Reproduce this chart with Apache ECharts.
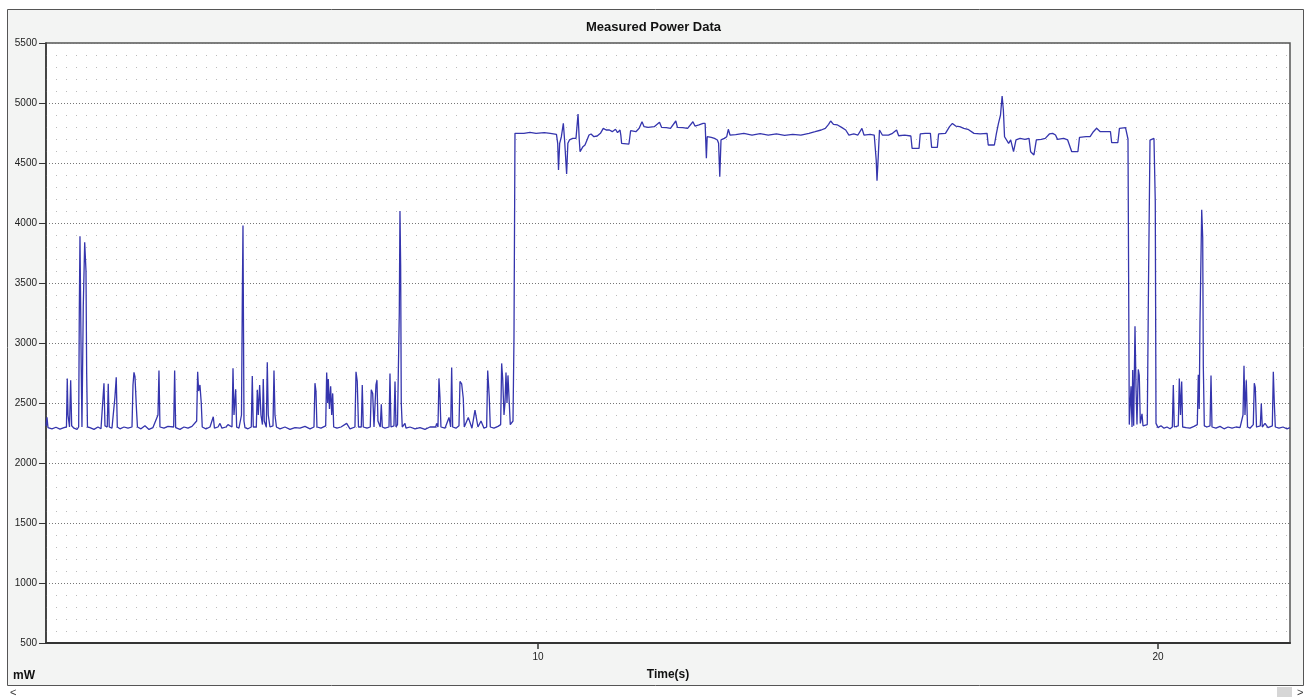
<!DOCTYPE html>
<html>
<head>
<meta charset="utf-8">
<title>Measured Power Data</title>
<script src="https://cdn.jsdelivr.net/npm/echarts@6/dist/echarts.min.js"></script>
<style>
  html, body { margin: 0; padding: 0; background: #fff; }
  #chart { width: 1307px; height: 697px; }
</style>
</head>
<body>
<div id="chart"></div>
<script>
// time (s), power (mW) -- idle phase before the run
var idleBefore = [
  [2.065, 2310], [2.081, 2380], [2.097, 2295], [2.161, 2285], [2.226, 2298], [2.290, 2282], [2.355, 2295],
  [2.395, 2300], [2.408, 2705], [2.420, 2400], [2.444, 2300], [2.463, 2690], [2.479, 2310],
  [2.516, 2290], [2.565, 2280],
  [2.592, 2300], [2.602, 3250], [2.613, 3890], [2.634, 2760], [2.645, 2300], [2.666, 3300], [2.689, 3840], [2.710, 3600], [2.721, 2750], [2.734, 2300],
  [2.774, 2295], [2.839, 2280], [2.903, 2300], [2.952, 2285],
  [2.984, 2300], [3.000, 2665], [3.016, 2310], [3.053, 2300], [3.069, 2660], [3.085, 2300],
  [3.129, 2290], [3.177, 2550], [3.198, 2715], [3.215, 2300],
  [3.258, 2285], [3.323, 2300], [3.387, 2290], [3.452, 2300],
  [3.468, 2650], [3.484, 2755], [3.500, 2720], [3.524, 2450], [3.540, 2300],
  [3.597, 2285], [3.661, 2310], [3.726, 2280], [3.790, 2295],
  [3.871, 2400], [3.887, 2770], [3.903, 2300],
  [3.968, 2290], [4.032, 2305], [4.124, 2300], [4.140, 2770], [4.156, 2295],
  [4.226, 2280], [4.290, 2300], [4.355, 2290], [4.419, 2305],
  [4.495, 2350], [4.511, 2760], [4.527, 2600], [4.548, 2650], [4.569, 2500], [4.585, 2300],
  [4.645, 2285], [4.710, 2300], [4.763, 2385], [4.782, 2290],
  [4.839, 2300], [4.871, 2330], [4.903, 2290], [4.968, 2300], [5.000, 2320], [5.065, 2300],
  [5.081, 2790], [5.097, 2400], [5.124, 2615], [5.140, 2300],
  [5.177, 2290], [5.218, 2400], [5.231, 3350], [5.242, 3980], [5.258, 2350], [5.274, 2295],
  [5.323, 2285], [5.376, 2300], [5.392, 2725], [5.408, 2300],
  [5.457, 2300], [5.473, 2610], [5.489, 2400], [5.511, 2650], [5.532, 2400], [5.556, 2320], [5.569, 2700], [5.585, 2350],
  [5.618, 2300], [5.634, 2840], [5.650, 2400], [5.677, 2300],
  [5.726, 2310], [5.742, 2770], [5.758, 2400], [5.782, 2300],
  [5.839, 2285], [5.919, 2300], [6.000, 2280], [6.081, 2295], [6.161, 2290], [6.242, 2305], [6.323, 2285],
  [6.387, 2300], [6.403, 2665], [6.419, 2600], [6.435, 2300],
  [6.500, 2290], [6.576, 2310], [6.592, 2755], [6.608, 2500], [6.618, 2700], [6.637, 2450], [6.656, 2640], [6.673, 2400], [6.689, 2580], [6.705, 2300],
  [6.758, 2290], [6.823, 2300], [6.914, 2330], [6.968, 2285], [7.048, 2300],
  [7.065, 2760], [7.085, 2680], [7.105, 2300],
  [7.150, 2300], [7.166, 2650], [7.182, 2300],
  [7.242, 2290], [7.295, 2300], [7.311, 2610], [7.334, 2580], [7.355, 2300],
  [7.371, 2310], [7.387, 2650], [7.403, 2690], [7.419, 2350], [7.456, 2300], [7.473, 2490], [7.489, 2300],
  [7.532, 2290], [7.597, 2300], [7.613, 2745], [7.629, 2300],
  [7.677, 2310], [7.694, 2680], [7.710, 2300],
  [7.734, 2320], [7.747, 2740], [7.763, 3250], [7.774, 4100], [7.785, 3650], [7.795, 2500], [7.811, 2300],
  [7.855, 2330], [7.871, 2290], [7.935, 2300], [8.016, 2285], [8.097, 2295], [8.177, 2280], [8.258, 2300],
  [8.350, 2300], [8.366, 2330], [8.387, 2300], [8.403, 2705], [8.419, 2550], [8.435, 2300],
  [8.500, 2290], [8.565, 2380], [8.592, 2300], [8.608, 2795], [8.624, 2300],
  [8.677, 2290], [8.726, 2310], [8.742, 2680], [8.769, 2660], [8.795, 2540], [8.811, 2300],
  [8.876, 2380], [8.935, 2290], [8.984, 2440], [9.032, 2300], [9.081, 2350], [9.129, 2290],
  [9.172, 2300], [9.189, 2770], [9.214, 2550], [9.231, 2300],
  [9.290, 2290], [9.355, 2305], [9.398, 2320], [9.414, 2830], [9.431, 2700], [9.452, 2400], [9.468, 2500],
  [9.484, 2755], [9.500, 2500], [9.516, 2730], [9.537, 2500], [9.553, 2320], [9.581, 2330], [9.597, 2350], [9.613, 3045]
];

// the high-power run
var activeRun = [
  [9.629, 4747], [9.772, 4747], [9.871, 4755], [9.969, 4747], [10.101, 4753], [10.199, 4747], [10.298, 4739], [10.318, 4664], [10.331, 4441], [10.350, 4664],
  [10.377, 4719], [10.409, 4830], [10.429, 4692], [10.462, 4408], [10.482, 4664], [10.508, 4692], [10.561, 4705], [10.613, 4705], [10.646, 4908], [10.666, 4692],
  [10.679, 4594], [10.725, 4636], [10.758, 4650], [10.791, 4692], [10.823, 4733], [10.856, 4742], [10.902, 4719], [10.955, 4725], [11.007, 4747], [11.053, 4789],
  [11.099, 4775], [11.152, 4775], [11.198, 4761], [11.250, 4781], [11.283, 4753], [11.323, 4775], [11.336, 4733], [11.349, 4664], [11.467, 4658], [11.480, 4664],
  [11.494, 4769], [11.579, 4761], [11.632, 4789], [11.678, 4844], [11.711, 4803], [11.776, 4797], [11.875, 4803], [11.960, 4839], [11.993, 4797], [12.072, 4794],
  [12.137, 4789], [12.223, 4850], [12.249, 4797], [12.335, 4794], [12.413, 4789], [12.499, 4844], [12.532, 4808], [12.597, 4817], [12.663, 4830], [12.696, 4830],
  [12.716, 4539], [12.729, 4719], [12.795, 4714], [12.847, 4705], [12.893, 4692], [12.913, 4664], [12.932, 4386], [12.952, 4692], [13.005, 4705], [13.044, 4719],
  [13.070, 4781], [13.097, 4733], [13.189, 4736], [13.320, 4747], [13.452, 4733], [13.583, 4744], [13.714, 4733], [13.846, 4742], [13.977, 4731], [14.109, 4739],
  [14.240, 4733], [14.371, 4747], [14.470, 4761], [14.568, 4775], [14.634, 4789], [14.687, 4822], [14.720, 4850], [14.766, 4822], [14.831, 4817], [14.897, 4797],
  [14.963, 4775], [15.015, 4733], [15.094, 4742], [15.160, 4733], [15.225, 4789], [15.258, 4733], [15.357, 4739], [15.423, 4733], [15.455, 4525], [15.468, 4353],
  [15.488, 4553], [15.508, 4775], [15.554, 4733], [15.653, 4733], [15.718, 4747], [15.784, 4775], [15.817, 4727], [15.915, 4733], [16.014, 4725], [16.034, 4622],
  [16.146, 4622], [16.165, 4742], [16.244, 4747], [16.329, 4747], [16.349, 4630], [16.441, 4630], [16.461, 4742], [16.572, 4747], [16.638, 4803], [16.684, 4830],
  [16.737, 4808], [16.802, 4803], [16.868, 4789], [16.934, 4781], [17.032, 4747], [17.131, 4742], [17.243, 4747], [17.262, 4650], [17.361, 4650], [17.394, 4747],
  [17.427, 4830], [17.460, 4900], [17.486, 5058], [17.506, 4942], [17.525, 4719], [17.552, 4705], [17.591, 4664], [17.624, 4692], [17.670, 4594], [17.710, 4692],
  [17.775, 4705], [17.854, 4697], [17.920, 4705], [17.946, 4594], [17.999, 4567], [18.038, 4692], [18.117, 4697], [18.182, 4705], [18.248, 4742], [18.301, 4747],
  [18.347, 4733], [18.379, 4697], [18.478, 4705], [18.543, 4692], [18.609, 4594], [18.708, 4594], [18.734, 4714], [18.839, 4719], [18.905, 4719], [18.958, 4761],
  [19.010, 4789], [19.069, 4761], [19.168, 4761], [19.233, 4761], [19.253, 4669], [19.352, 4669], [19.378, 4789], [19.476, 4794], [19.505, 4790], [19.516, 4700]
];

// idle phase after the run
var idleAfter = [
  [19.537, 2320], [19.565, 2640], [19.581, 2300], [19.592, 2775], [19.608, 2310], [19.629, 3140], [19.645, 2640], [19.661, 2320],
  [19.682, 2780], [19.698, 2730], [19.715, 2330], [19.742, 2410], [19.758, 2310], [19.790, 2300], [19.827, 2320],
  [19.847, 3500], [19.871, 4690], [19.903, 4705], [19.935, 4705], [19.947, 4690], [19.956, 4180], [19.968, 2330],
  [20.000, 2295], [20.048, 2310], [20.097, 2290], [20.145, 2300], [20.194, 2285],
  [20.231, 2300], [20.247, 2650], [20.263, 2300],
  [20.290, 2290], [20.327, 2310], [20.344, 2705], [20.363, 2400], [20.382, 2680], [20.398, 2300],
  [20.452, 2295], [20.516, 2290], [20.581, 2305],
  [20.634, 2320], [20.650, 2735], [20.665, 2450], [20.677, 3165], [20.705, 4110], [20.721, 3880], [20.731, 2800], [20.747, 2310],
  [20.790, 2300], [20.839, 2310], [20.855, 2730], [20.871, 2300],
  [20.935, 2290], [21.000, 2305], [21.065, 2285], [21.129, 2300], [21.194, 2290], [21.258, 2300], [21.323, 2295],
  [21.371, 2400], [21.387, 2810], [21.403, 2400], [21.424, 2690], [21.444, 2300],
  [21.484, 2290], [21.537, 2320], [21.553, 2665], [21.569, 2630], [21.589, 2300], [21.613, 2300],
  [21.650, 2310], [21.666, 2495], [21.682, 2300],
  [21.726, 2330], [21.774, 2295], [21.844, 2310], [21.860, 2760], [21.876, 2500], [21.892, 2300],
  [21.952, 2290], [22.016, 2300], [22.081, 2285], [22.129, 2295]
];

var xLabels = [10, 20];
var timeRange = [2.065, 22.129];
var powerRange = [500, 5500];

(function () {
  var myChart = echarts.init(document.getElementById('chart'));
  var font = 'Liberation Sans, Arial, sans-serif';

  var option = {
    animation: false,
    backgroundColor: '#ffffff',
    title: {
      text: 'Measured Power Data',
      left: 'center',
      top: 16,
      textStyle: { fontFamily: font, fontSize: 13, fontWeight: 'bold', color: '#111' }
    },
    graphic: [
      // outer panel
      { type: 'rect', z: -10, shape: { x: 7.5, y: 9.5, width: 1296, height: 676 },
        style: { fill: '#f3f4f3', stroke: '#555', lineWidth: 1 } },
      { type: 'text', left: 13, top: 670,
        style: { text: 'mW', font: 'bold 12px ' + font, fill: '#111' } },
      // scroll bar row
      { type: 'text', left: 10, top: 687, style: { text: '<', font: '11px ' + font, fill: '#333' } },
      { type: 'rect', shape: { x: 1277, y: 687, width: 15, height: 10 }, style: { fill: '#d6d6d6' } },
      { type: 'text', left: 1297, top: 687, style: { text: '>', font: '11px ' + font, fill: '#333' } }
    ],
    grid: {
      left: 46,
      top: 43,
      right: 17,
      bottom: 54,
      show: true,
      backgroundColor: '#ffffff',
      borderColor: '#555',
      borderWidth: 1.5
    },
    xAxis: {
      type: 'value',
      min: timeRange[0],
      max: timeRange[1],
      name: 'Time(s)',
      nameLocation: 'middle',
      nameGap: 26,
      nameTextStyle: { fontFamily: font, fontSize: 12, fontWeight: 'bold', color: '#111' },
      axisLine: { lineStyle: { color: '#333', width: 2 } },
      axisTick: { show: true, length: 6, customValues: xLabels, lineStyle: { color: '#333', width: 1.5 } },
      axisLabel: { customValues: xLabels, fontFamily: font, fontSize: 10, color: '#222', margin: 9 },
      splitLine: { show: false }
    },
    yAxis: {
      type: 'value',
      min: powerRange[0],
      max: powerRange[1],
      interval: 500,
      axisLine: { show: true, lineStyle: { color: '#333', width: 1.5 } },
      axisTick: { show: true, length: 7, lineStyle: { color: '#333' } },
      axisLabel: {
        fontFamily: font, fontSize: 10, color: '#222', margin: 9,
        formatter: function (v) { return String(v); }
      },
      splitLine: { show: true, lineStyle: { color: '#777', type: [1, 2], width: 1 } },
      minorTick: { show: false, splitNumber: 5 },
      minorSplitLine: { show: true, lineStyle: { color: '#bbb', type: [1, 9], width: 1 } }
    },
    series: [
      {
        name: 'Power',
        type: 'line',
        showSymbol: false,
        data: idleBefore.concat(activeRun, idleAfter),
        lineStyle: { color: '#3535ad', width: 1.3 },
        itemStyle: { color: '#3535ad' }
      }
    ]
  };

  myChart.setOption(option);
  window.addEventListener('resize', function () {
    myChart.resize();
  });
})();
</script>
</body>
</html>
